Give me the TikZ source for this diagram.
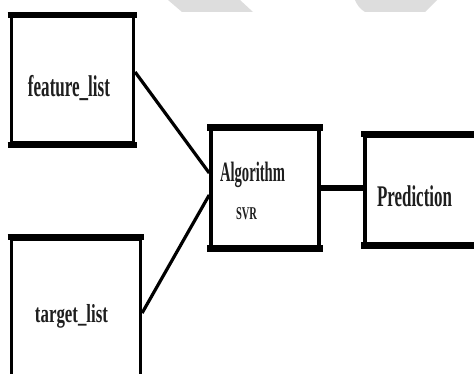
\documentclass[tikz,border=0pt]{standalone}
\usepackage{fontspec}
\setmainfont{Liberation Serif}
\usepackage{graphicx}
\definecolor{wm}{HTML}{DDDDDD}
\definecolor{ink}{HTML}{1E1E1E}
\tikzset{
  boxshape/.style={draw=black, line width=3.6pt, rectangle, inner sep=0pt, minimum width=#1},
  hedge/.style={line width=6.5pt, shorten <=-1.8pt, shorten >=-1.8pt},
  conn/.style={line width=3.2pt},
  thickconn/.style={line width=6pt},
  txt/.style={inner sep=0pt, anchor=base, text=ink}
}
\begin{document}
\begin{tikzpicture}[x=1pt,y=-1pt]
\useasboundingbox[fill=white] (0,0) rectangle (474,374);
% watermark shapes
\fill[wm] (168,0) -- (182,12) -- (253,12) -- (240,0) -- cycle;
\fill[wm] (355,0) .. controls (357,5) and (360,9) .. (365,12) -- (425,12) -- (437,0) -- cycle;
\begin{scope}
\clip (0,0) rectangle (474,374);
% boxes
\node[boxshape=122pt, minimum height=126.6pt] (feat) at (72.3,80) {};
\node[boxshape=129pt, minimum height=161pt] (tgt) at (75.8,319.5) {};
\node[boxshape=108pt, minimum height=117pt] (alg) at (265,188) {};
\node[boxshape=125pt, minimum height=107.5pt] (pred) at (427.5,189.75) {};
\foreach \b in {feat,tgt,alg,pred}{
  \draw[hedge] (\b.north west) -- (\b.north east);
  \draw[hedge] (\b.south west) -- (\b.south east);
}
\end{scope}
% connectors
\draw[conn] (feat.east |- 0,72) -- (alg.west |- 0,173);
\draw[conn] (tgt.east |- 0,313) -- (alg.west |- 0,195);
\draw[thickconn] (alg.east |- 0,188) -- (pred.west |- 0,188);
% texts
\node[txt, font=\fontsize{30}{30}\bfseries\selectfont] (feattxt) at (69,97) {\resizebox{82pt}{\height}{feature\_list}};
\node[txt, font=\fontsize{26}{26}\bfseries\selectfont] (tgttxt) at (71.5,322.5) {\resizebox{73pt}{\height}{target\_list}};
\node[txt, font=\fontsize{28}{28}\bfseries\selectfont] (algtxt) at (252.5,181.5) {\resizebox{65pt}{\height}{Algorithm}};
\node[txt, font=\fontsize{18}{18}\bfseries\selectfont] (svrtxt) at (246.5,220) {\resizebox{21pt}{\height}{SVR}};
\node[txt, font=\fontsize{30}{30}\bfseries\selectfont] (predtxt) at (414.5,207) {\resizebox{75pt}{\height}{Prediction}};
\end{tikzpicture}
\end{document}
